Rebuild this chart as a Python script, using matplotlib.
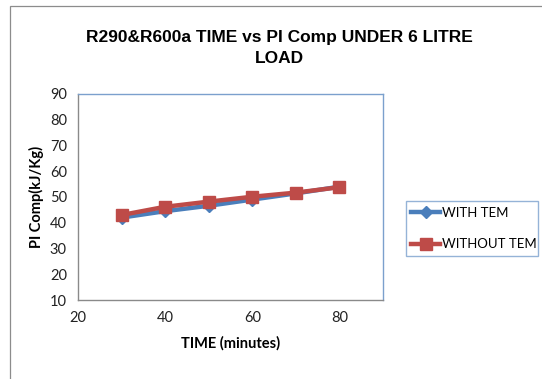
import matplotlib
matplotlib.use('Agg')
import matplotlib.pyplot as plt
from matplotlib.patches import Rectangle

# data
time_min = [30, 40, 50, 60, 70, 80]
with_tem = [42.0, 44.5, 46.6, 49.0, 51.4, 54.0]
without_tem = [43.0, 46.2, 48.2, 50.1, 51.7, 53.8]
x_ticks = [20, 40, 60, 80]
y_ticks = [10, 20, 30, 40, 50, 60, 70, 80, 90]

W, H = 542, 379
fig = plt.figure(figsize=(W / 100, H / 100), dpi=100)
fig.patch.set_facecolor('white')

# outer chart border (only left/top visible in the crop)
fig.patches.append(Rectangle((10 / W, -0.1), 1.2, 1 - 6 / H + 0.1, transform=fig.transFigure,
                             fill=False, edgecolor='#8c8c8c', linewidth=0.9))

ax = fig.add_axes([78 / W, 1 - 300 / H, (383 - 78) / W, (300 - 94) / H])

tick_font = 'Lato'
ax.plot(time_min, with_tem, color='#4a7ebb', linewidth=3.2, marker='D', markersize=6,
        label='WITH TEM', zorder=3)
ax.plot(time_min, without_tem, color='#be4b48', linewidth=3.2, marker='s', markersize=9,
        label='WITHOUT TEM', zorder=4)

ax.set_xlim(20, 90)
ax.set_ylim(10, 90)
ax.set_xticks(x_ticks)
ax.set_yticks(y_ticks)
ax.tick_params(length=0, labelsize=10.5, pad=8)
for lbl in ax.get_xticklabels() + ax.get_yticklabels():
    lbl.set_fontfamily(tick_font)
    lbl.set_color('#222222')

for s in ['left', 'bottom']:
    ax.spines[s].set_color('#8a8a8a')
for s in ['top', 'right']:
    ax.spines[s].set_color('#7ba0cd')
for s in ax.spines.values():
    s.set_linewidth(1.0)

ax.set_xlabel('TIME (minutes)', fontfamily=tick_font, fontweight='bold', fontsize=10.5, labelpad=8)
ax.set_ylabel('PI Comp(kJ/Kg)', fontfamily=tick_font, fontweight='bold', fontsize=10.5, labelpad=4)

fig.text(279 / W, 1 - 48 / H, 'R290&R600a TIME vs PI Comp UNDER 6 LITRE\nLOAD',
         ha='center', va='center', fontfamily='Liberation Sans', fontweight='bold',
         fontsize=12.5, linespacing=1.55)

leg = ax.legend(loc='center left', bbox_to_anchor=(406 / W, 1 - 262 / H, (538 - 406) / W, (262 - 195) / H),
                bbox_transform=fig.transFigure, mode='expand', fancybox=False, frameon=True,
                prop={'family': tick_font, 'size': 9.5}, handlelength=2.2, handletextpad=0.1,
                labelspacing=1.5, borderaxespad=0)
leg.get_frame().set_edgecolor('#7ba0cd')
leg.get_frame().set_linewidth(1.0)

fig.savefig('out.png', dpi=100)
